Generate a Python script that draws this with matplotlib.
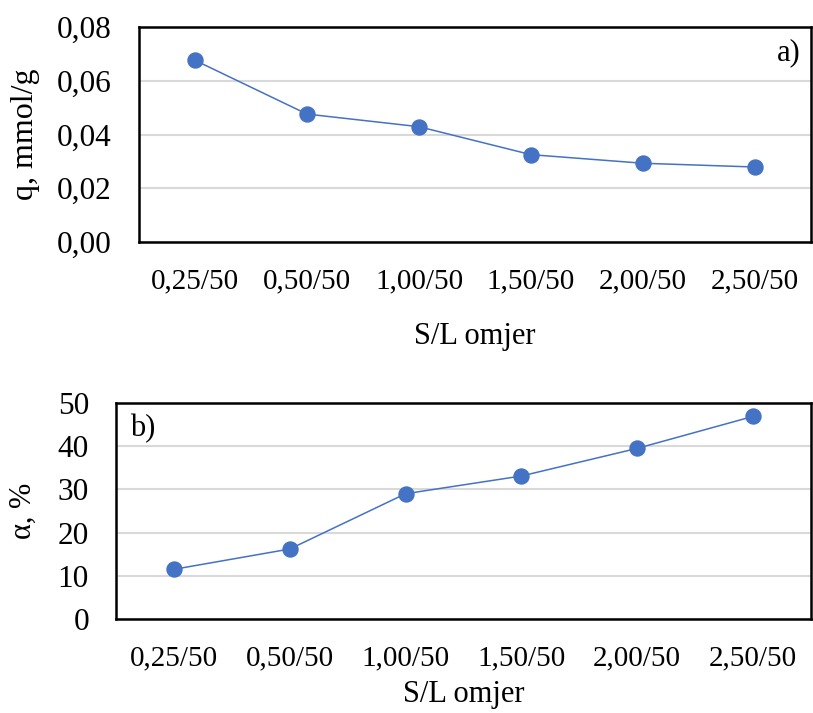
import matplotlib
matplotlib.use("Agg")
import matplotlib.pyplot as plt
from matplotlib.ticker import FixedLocator

categories = ["0,25/50", "0,50/50", "1,00/50", "1,50/50", "2,00/50", "2,50/50"]
q_values = [0.0676, 0.0476, 0.0429, 0.0325, 0.0293, 0.0279]
alpha_values = [11.5, 16.2, 29.0, 33.1, 39.5, 46.9]
q_ticks = [0.00, 0.02, 0.04, 0.06, 0.08]
q_tick_labels = ["0,00", "0,02", "0,04", "0,06", "0,08"]
alpha_ticks = [0, 10, 20, 30, 40, 50]
alpha_tick_labels = ["0", "10", "20", "30", "40", "50"]

plt.rcParams['font.family'] = ['Liberation Serif', 'DejaVu Serif']
FS_XT = 21
FS_YT = 22.5
FS_LAB = 22
blue = "#4472C4"

fig = plt.figure(figsize=(8.13, 7.13), dpi=100)
W, H = 813, 713

def add_ax(l, r, t, b):
    return fig.add_axes([l / W, 1 - b / H, (r - l) / W, (b - t) / H])

ax1 = add_ax(139, 811, 27, 242)
ax2 = add_ax(116, 811, 403, 619)

x = list(range(len(categories)))

def style(ax, ticks, labels, ylabel, ylim, label_txt, label_pos, ha, yfs):
    ax.set_xlim(-0.5, len(categories) - 0.5)
    ax.set_ylim(*ylim)
    ax.yaxis.set_major_locator(FixedLocator(ticks))
    ax.set_yticklabels(labels, fontsize=FS_YT)
    ax.set_xticks(x)
    ax.set_xticklabels(categories, fontsize=FS_XT)
    ax.tick_params(axis='both', length=0)
    ax.tick_params(axis='x', pad=19)
    ax.tick_params(axis='y', pad=19.5)
    ax.grid(axis='y', color='#d9d9d9', linewidth=1.5)
    ax.set_axisbelow(True)
    for s in ax.spines.values():
        s.set_linewidth(1.8)
        s.set_color('black')
    ax.set_ylabel(ylabel, fontsize=yfs)
    ax.set_xlabel("S/L omjer", fontsize=FS_LAB, labelpad=20)
    ax.text(label_pos[0], label_pos[1], label_txt, transform=ax.transAxes,
            fontsize=FS_LAB, ha=ha, va='center')

style(ax1, q_ticks, q_tick_labels, "q, mmol/g", (0, 0.08), "a)", (0.985, 0.88), 'right', 23)
ax1.plot(x, q_values, color=blue, linewidth=1.1, marker='o', markersize=10.8,
         markerfacecolor=blue, markeredgecolor=blue, zorder=3)
ax1.yaxis.set_label_coords(-0.147, 0.5)

style(ax2, alpha_ticks, alpha_tick_labels, "α, %", (0, 50), "b)", (0.02, 0.88), 'left', 22)
ax2.plot(x, alpha_values, color=blue, linewidth=1.1, marker='o', markersize=10.8,
         markerfacecolor=blue, markeredgecolor=blue, zorder=3)
ax2.yaxis.set_label_coords(-0.113, 0.5)
ax2.xaxis.labelpad = 6

fig.savefig("out.png", dpi=100)
